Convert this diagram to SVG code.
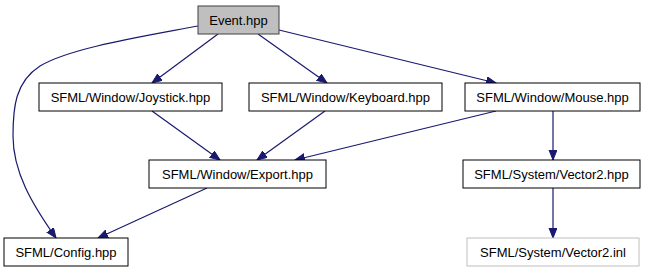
<svg xmlns="http://www.w3.org/2000/svg" width="648" height="272" viewBox="0 0 648 272">
  <style>
    .node rect { fill: #ffffff; stroke: #000000; stroke-width: 1; }
    .node text { font-family: "Liberation Sans", Arial, Helvetica, sans-serif; font-size: 13px; text-anchor: middle; fill: #000000; }
    #n_event rect { fill: #bfbfbf; stroke: #404040; }
    #n_vec2inl rect { stroke: #bfbfbf; }
    .edges path { fill: none; stroke: #191970; stroke-width: 1.2; }
  </style>
  <defs>
    <marker id="arrow" markerUnits="userSpaceOnUse" markerWidth="11" markerHeight="9" refX="10" refY="4" orient="auto">
      <path d="M0,0 L10,4 L0,8 z" fill="#191970" stroke="#191970" stroke-width="1"/>
    </marker>
  </defs>
  <rect width="648" height="272" fill="#ffffff"/>

  <g class="edges">
    <!-- Event.hpp -> SFML/Config.hpp -->
    <path d="M198,26 C140,37 70,48 40,66 C15,82 13,108 13,136 C13,172 32,204 56,238" marker-end="url(#arrow)"/>
    <!-- Event.hpp -> Joystick.hpp -->
    <path d="M218,34 L152,83" marker-end="url(#arrow)"/>
    <!-- Event.hpp -> Keyboard.hpp -->
    <path d="M258,34 L327,83" marker-end="url(#arrow)"/>
    <!-- Event.hpp -> Mouse.hpp -->
    <path d="M279,30 L496,83" marker-end="url(#arrow)"/>
    <!-- Joystick.hpp -> Export.hpp -->
    <path d="M152,111 L220,160" marker-end="url(#arrow)"/>
    <!-- Keyboard.hpp -> Export.hpp -->
    <path d="M325,111 L257,160" marker-end="url(#arrow)"/>
    <!-- Mouse.hpp -> Export.hpp -->
    <path d="M496,111 L295,160" marker-end="url(#arrow)"/>
    <!-- Mouse.hpp -> Vector2.hpp -->
    <path d="M553,111 L553,160" marker-end="url(#arrow)"/>
    <!-- Export.hpp -> Config.hpp -->
    <path d="M207,188 L98,238" marker-end="url(#arrow)"/>
    <!-- Vector2.hpp -> Vector2.inl -->
    <path d="M553,188 L553,238" marker-end="url(#arrow)"/>
  </g>

  <g id="n_event" class="node">
    <rect x="198" y="6" width="81" height="28"/>
    <text x="238.5" y="25">Event.hpp</text>
  </g>
  <g id="n_joystick" class="node">
    <rect x="39" y="83" width="183" height="28"/>
    <text x="130.5" y="102">SFML/Window/Joystick.hpp</text>
  </g>
  <g id="n_keyboard" class="node">
    <rect x="249" y="83" width="193" height="28"/>
    <text x="345.5" y="102">SFML/Window/Keyboard.hpp</text>
  </g>
  <g id="n_mouse" class="node">
    <rect x="465" y="83" width="175" height="28"/>
    <text x="552.5" y="102">SFML/Window/Mouse.hpp</text>
  </g>
  <g id="n_export" class="node">
    <rect x="149" y="160" width="177" height="28"/>
    <text x="237.5" y="179">SFML/Window/Export.hpp</text>
  </g>
  <g id="n_vec2hpp" class="node">
    <rect x="463" y="160" width="177" height="28"/>
    <text x="551.5" y="179">SFML/System/Vector2.hpp</text>
  </g>
  <g id="n_config" class="node">
    <rect x="4" y="238" width="124" height="28"/>
    <text x="66" y="257">SFML/Config.hpp</text>
  </g>
  <g id="n_vec2inl" class="node">
    <rect x="467" y="238" width="172" height="28"/>
    <text x="553" y="257">SFML/System/Vector2.inl</text>
  </g>
</svg>
